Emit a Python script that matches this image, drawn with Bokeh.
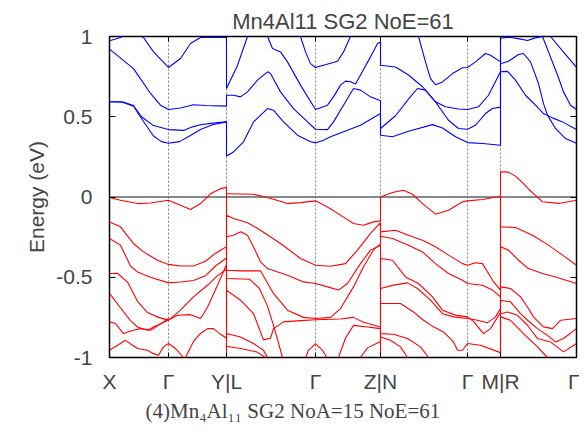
from bokeh.plotting import figure
from bokeh.models import FixedTicker, LinearAxis, Span, Title
from bokeh.embed import file_html
from bokeh.resources import INLINE

# k-path tick positions and labels
K_TICKS = [0, 59, 117, 206, 271, 358, 391, 467]
K_LABELS = ["X", "Γ", "Y|L", "Γ", "Z|N", "Γ", "M|R", "Γ"]
E_TICKS = [-1, -0.5, 0, 0.5, 1]
E_LABELS = ["-1", "-0.5", "0", "0.5", "1"]

# ---- conduction bands (blue): (k, E) ----
blue_1 = [(0, 0.593), (13, 0.59), (24, 0.565), (33, 0.48), (44, 0.38), (52, 0.345), (59, 0.335), (70, 0.345), (80, 0.38), (91, 0.42), (103, 0.45), (117, 0.468),
          (117, 0.256), (124, 0.281), (134, 0.344), (144, 0.468), (158, 0.551), (164, 0.541), (174, 0.468), (188, 0.385), (201, 0.344), (206, 0.337), (214, 0.354), (221, 0.375), (234, 0.406), (251, 0.447), (271, 0.52),
          (271, 0.385), (283, 0.375), (299, 0.41), (323, 0.451), (333, 0.43), (346, 0.375), (358, 0.339), (373, 0.333), (391, 0.322),
          (391, 0.83), (399, 0.846), (409, 0.888), (414, 0.894), (421, 0.842), (429, 0.707), (434, 0.582), (438, 0.51), (446, 0.427), (456, 0.364), (467, 0.335)]
blue_2 = [(0, 0.593), (13, 0.593), (24, 0.57), (32, 0.50), (44, 0.445), (59, 0.42), (74, 0.415), (83, 0.437), (91, 0.45), (103, 0.46), (117, 0.468)]
blue_3 = [(0, 0.921), (24, 0.80), (41, 0.645), (51, 0.572), (59, 0.545), (71, 0.555), (84, 0.575), (96, 0.57), (117, 0.566),
          (117, 0.634), (124, 0.634), (131, 0.624), (138, 0.655), (148, 0.728), (158, 0.78), (161, 0.77), (171, 0.655), (184, 0.551), (198, 0.468), (206, 0.422), (218, 0.42), (224, 0.468), (234, 0.572), (244, 0.676), (251, 0.666), (261, 0.624), (271, 0.60),
          (271, 0.427), (286, 0.506), (299, 0.61), (308, 0.676), (316, 0.666), (326, 0.593), (339, 0.478), (349, 0.427), (358, 0.422), (366, 0.447), (376, 0.52), (383, 0.551), (391, 0.56),
          (391, 0.78), (398, 0.783), (406, 0.728), (416, 0.634), (426, 0.572), (434, 0.52), (443, 0.493), (453, 0.468), (467, 0.42)]
blue_4 = [(0, 0.973), (11, 0.994), (22, 1.03), (34, 0.994), (44, 0.904), (59, 0.807), (71, 0.863), (81, 0.956), (91, 0.994), (117, 0.994),
          (117, 0.676), (128, 0.82), (138, 1.0), (148, 1.06), (158, 1.0), (163, 0.925), (171, 0.904), (178, 0.842), (191, 0.697), (206, 0.545), (218, 0.572), (224, 0.624), (231, 0.697), (236, 0.722), (241, 0.718), (246, 0.704), (251, 0.76), (261, 0.873), (268, 0.956), (271, 0.965),
          (271, 0.821), (286, 0.81), (299, 0.76), (313, 0.687), (326, 0.593), (336, 0.562), (349, 0.548), (358, 0.545), (369, 0.562), (379, 0.634), (391, 0.78),
          (391, 0.99), (400, 0.995), (410, 0.985), (418, 0.975), (425, 0.99), (433, 1.0), (439, 0.904), (448, 0.76), (454, 0.655), (461, 0.572), (467, 0.545)]
blue_5 = [(0, 1.1), (117, 1.1), (185, 1.06), (191, 1.0), (196, 0.904), (201, 0.831), (206, 0.807), (214, 0.821), (228, 0.846), (234, 0.904), (241, 1.0), (250, 1.08), (271, 1.1),
          (305, 1.05), (309, 1.0), (316, 0.842), (321, 0.738), (326, 0.70), (333, 0.717), (343, 0.769), (353, 0.805), (358, 0.807), (366, 0.842), (376, 0.894), (381, 0.883), (391, 0.842),
          (391, 1.1), (436, 1.05), (441, 1.0), (453, 0.91), (467, 0.807)]

# ---- valence bands (red): (k, E) ----
red_1 = [(0, -0.003), (11, -0.02), (28, -0.041), (41, -0.037), (59, -0.02), (71, -0.051), (81, -0.078), (91, -0.041), (101, 0.02), (111, 0.052), (117, 0.06),
         (117, -0.248), (124, -0.238), (131, -0.217), (138, -0.238), (144, -0.311), (151, -0.404), (158, -0.446), (178, -0.487), (194, -0.529), (206, -0.539), (218, -0.56), (229, -0.58), (238, -0.539), (251, -0.415), (261, -0.331), (271, -0.30),
         (271, -0.57), (284, -0.549), (298, -0.535), (308, -0.57), (321, -0.643), (333, -0.727), (344, -0.747), (358, -0.757), (368, -0.768), (378, -0.783), (386, -0.747), (391, -0.695),
         (391, -0.56), (401, -0.57), (411, -0.622), (418, -0.685), (424, -0.747), (434, -0.809), (443, -0.82), (451, -0.768), (467, -0.757)]
red_2 = [(0, -0.155), (11, -0.186), (24, -0.29), (34, -0.342), (48, -0.394), (59, -0.42), (71, -0.43), (84, -0.43), (96, -0.40), (106, -0.35), (117, -0.31),
         (117, -0.456), (131, -0.46), (151, -0.46), (164, -0.601), (178, -0.705), (194, -0.75), (206, -0.757), (221, -0.75), (231, -0.695), (244, -0.56), (254, -0.435), (264, -0.33), (271, -0.29),
         (271, -0.217), (286, -0.207), (299, -0.238), (313, -0.269), (326, -0.31), (339, -0.362), (353, -0.415), (358, -0.425), (366, -0.41), (373, -0.415), (383, -0.519), (391, -0.58),
         (391, 0.157), (399, 0.155), (406, 0.13), (413, 0.09), (419, 0.05), (426, 0.01), (433, -0.03), (449, -0.04), (467, -0.02)]
red_3 = [(0, -0.259), (11, -0.30), (21, -0.43), (28, -0.467), (41, -0.50), (59, -0.535), (71, -0.53), (84, -0.52), (96, -0.49), (106, -0.43), (117, -0.38),
         (117, -0.113), (124, -0.134), (138, -0.16), (151, -0.207), (171, -0.29), (191, -0.383), (206, -0.425), (221, -0.431), (236, -0.415), (248, -0.331), (261, -0.227), (271, -0.16),
         (271, -0.245), (283, -0.259), (299, -0.3), (313, -0.342), (326, -0.415), (339, -0.477), (353, -0.519), (358, -0.539), (373, -0.55), (383, -0.58), (391, -0.622),
         (391, -0.31), (399, -0.331), (409, -0.394), (419, -0.446), (433, -0.477), (446, -0.498), (467, -0.539)]
red_4 = [(0, -0.477), (8, -0.475), (18, -0.53), (28, -0.65), (38, -0.72), (49, -0.75), (59, -0.767), (68, -0.737), (81, -0.733), (91, -0.757), (98, -0.687), (108, -0.55), (117, -0.42),
         (117, -0.508), (140, -0.512), (150, -0.57), (158, -0.68), (164, -0.80), (173, -1.0), (178, -1.1), (271, -1.1),
         (271, -0.872), (281, -0.893), (291, -0.934), (298, -1.0), (302, -1.1), (391, -1.1),
         (391, -0.747), (401, -0.768), (414, -0.851), (428, -0.934), (438, -1.0), (442, -1.1)]
red_5 = [(0, -0.601), (11, -0.69), (21, -0.77), (28, -0.81), (38, -0.83), (44, -0.81), (59, -0.767), (71, -0.705), (84, -0.622), (98, -0.55), (108, -0.49), (117, -0.45),
         (117, -0.93), (131, -0.944), (147, -0.965), (156, -1.0), (160, -1.1)]
red_6 = [(0, -0.778), (6, -0.788), (14, -0.851), (19, -0.84), (24, -0.83), (31, -0.82), (41, -0.83), (49, -0.80), (59, -0.757)]
red_7 = [(0, -0.955), (8, -0.924), (16, -0.893), (23, -0.924), (28, -0.944), (38, -0.955), (44, -0.976), (49, -0.986), (54, -0.934), (59, -0.913), (66, -0.944), (74, -1.0), (80, -1.1), (117, -1.1),
         (117, -0.85), (131, -0.872), (144, -0.913), (154, -0.955), (158, -1.0), (162, -1.1)]
red_8 = [(74, -1.1), (76, -1.0), (84, -0.90), (91, -0.85), (98, -0.82), (104, -0.82), (110, -0.85), (117, -0.88),
         (117, -0.58), (131, -0.643), (144, -0.726), (154, -0.89), (161, -0.88), (164, -0.82), (174, -0.778), (191, -0.77), (206, -0.765), (231, -0.76), (244, -0.75), (254, -0.78), (271, -0.81),
         (271, -0.383), (283, -0.394), (296, -0.498), (309, -0.539), (323, -0.622), (333, -0.705), (346, -0.736), (358, -0.747), (364, -0.775), (374, -0.851), (381, -0.82), (391, -0.72),
         (391, -0.643), (401, -0.653), (411, -0.727), (418, -0.768), (428, -0.82), (438, -0.862), (446, -0.903), (454, -0.882), (467, -0.82)]
red_9 = [(117, 0.02), (144, 0.017), (158, -0.003), (178, -0.041), (191, -0.035), (206, -0.024), (218, -0.062), (231, -0.113), (244, -0.165), (254, -0.176), (264, -0.155), (271, -0.149),
         (271, 0.0), (283, 0.028), (294, 0.042), (303, 0.017), (313, -0.041), (326, -0.107), (339, -0.082), (353, -0.03), (358, -0.024), (373, -0.016), (391, 0.005),
         (391, -0.186), (406, -0.19), (423, -0.238), (439, -0.3), (453, -0.362), (467, -0.425)]
red_10 = [(193, -1.05), (199, -0.955), (206, -0.913), (213, -0.955), (222, -1.05)]
red_11 = [(226, -1.05), (236, -0.88), (244, -0.80), (258, -0.81), (271, -0.82),
          (271, -0.851), (284, -0.855), (298, -0.882), (311, -0.934), (319, -1.0), (323, -1.1)]
red_12 = [(245, -1.05), (258, -0.94), (271, -0.90),
          (271, -0.664), (291, -0.664), (304, -0.716), (314, -0.768), (324, -0.809), (334, -0.841), (344, -0.903), (348, -0.955), (353, -0.955), (358, -0.913), (371, -0.924), (389, -0.965), (391, -0.97),
          (391, -0.727), (398, -0.716), (408, -0.737), (418, -0.799), (428, -0.882), (441, -0.903), (454, -0.965), (467, -0.913)]

BLUE_BANDS = [blue_1, blue_2, blue_3, blue_4, blue_5]
RED_BANDS = [red_1, red_2, red_3, red_4, red_5, red_6, red_7, red_8, red_9, red_10, red_11, red_12]

TITLE = "Mn4Al11 SG2 NoE=61"
CAPTION = "(4)Mn₄Al₁₁ SG2 NoA=15 NoE=61"

FONT = "Liberation Sans"
FS = "21px"

p = figure(width=579, height=429, x_range=(K_TICKS[0], K_TICKS[-1]), y_range=(-1, 1),
           output_backend="svg", toolbar_location=None,
           min_border_left=109, min_border_right=3, min_border_top=36, min_border_bottom=72,
           x_axis_type=None, y_axis_type=None)
p.title.text = TITLE
p.title.text_font = FONT
p.title.text_font_size = "22px"
p.title.text_font_style = "normal"
p.title.align = "center"
p.title.standoff = 6
p.grid.visible = False
p.outline_line_color = "black"
p.outline_line_width = 1.5
p.background_fill_color = "white"
p.border_fill_color = "white"

xt = FixedTicker(ticks=K_TICKS)
yt = FixedTicker(ticks=E_TICKS)

xaxis = LinearAxis(ticker=xt, major_label_overrides={k: lab for k, lab in zip(K_TICKS, K_LABELS)},
                   major_label_text_font=FONT, major_label_text_font_size=FS,
                   major_label_standoff=12, major_tick_in=5, major_tick_out=0,
                   minor_tick_line_color=None, axis_line_color=None)
p.add_layout(xaxis, "below")
xtop = LinearAxis(ticker=xt, major_label_text_font_size="1px", major_label_text_color=None,
                  major_label_standoff=0, major_tick_in=5, major_tick_out=0,
                  minor_tick_line_color=None, axis_line_color=None)
p.add_layout(xtop, "above")

yaxis = LinearAxis(ticker=yt, major_label_overrides={v: lab for v, lab in zip(E_TICKS, E_LABELS)},
                   major_label_text_font=FONT, major_label_text_font_size=FS,
                   major_label_standoff=17, major_tick_in=6, major_tick_out=0,
                   minor_tick_line_color=None, axis_line_color=None,
                   axis_label="Energy (eV)", axis_label_text_font=FONT,
                   axis_label_text_font_size=FS, axis_label_text_font_style="normal",
                   axis_label_standoff=5)
p.add_layout(yaxis, "left")
yright = LinearAxis(ticker=yt, major_label_text_font_size="1px", major_label_text_color=None,
                    major_label_standoff=0, major_tick_in=6, major_tick_out=0,
                    minor_tick_line_color=None, axis_line_color=None)
p.add_layout(yright, "right")

# vertical dotted lines at the high-symmetry points
for k in K_TICKS[1:-1]:
    p.add_layout(Span(location=k, dimension="height", line_color="#808080",
                      line_width=1, line_dash="2 2", level="underlay"))
# Fermi level
p.add_layout(Span(location=0, dimension="width", line_color="#606060", line_width=1.6, level="underlay"))

for band in BLUE_BANDS:
    p.line([q[0] for q in band], [q[1] for q in band], line_color="#0000ff", line_width=1.1)
for band in RED_BANDS:
    p.line([q[0] for q in band], [q[1] for q in band], line_color="#ff0000", line_width=1.1)

cap = Title(text=CAPTION, align="left", offset=36, text_font="Liberation Serif",
            text_font_size=FS, text_font_style="normal", standoff=2)
p.add_layout(cap, "below")

open("out.html", "w").write(file_html(p, INLINE))
